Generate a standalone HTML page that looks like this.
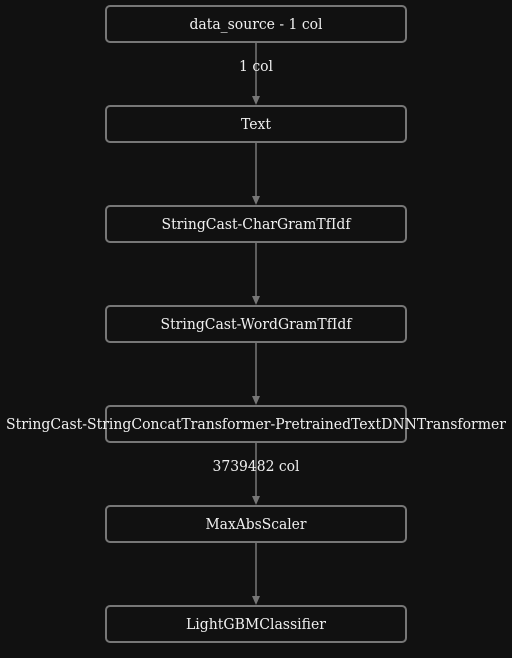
<!DOCTYPE html>
<html><head><style>
html,body{margin:0;padding:0;background:#111111;}
svg{display:block}
text{font-family:"DejaVu Serif","Liberation Serif",serif;font-size:15px;fill:#f0f0f0;text-anchor:middle;}
</style></head><body>
<svg width="512" height="658" viewBox="0 0 512 658" xmlns="http://www.w3.org/2000/svg">
<rect width="512" height="658" fill="#111111"/>
<g stroke="#777" stroke-width="1.5" fill="none">
<line x1="256" y1="42" x2="256" y2="98"/>
<line x1="256" y1="142" x2="256" y2="198"/>
<line x1="256" y1="242" x2="256" y2="298"/>
<line x1="256" y1="342" x2="256" y2="398"/>
<line x1="256" y1="442" x2="256" y2="498"/>
<line x1="256" y1="542" x2="256" y2="598"/>
</g>
<g fill="#777">
<polygon points="252,96 260,96 256,105"/>
<polygon points="252,196 260,196 256,205"/>
<polygon points="252,296 260,296 256,305"/>
<polygon points="252,396 260,396 256,405"/>
<polygon points="252,496 260,496 256,505"/>
<polygon points="252,596 260,596 256,605"/>
</g>
<g stroke="#777" stroke-width="2" fill="#111111">
<rect x="106" y="6" width="300" height="36" rx="4"/>
<rect x="106" y="106" width="300" height="36" rx="4"/>
<rect x="106" y="206" width="300" height="36" rx="4"/>
<rect x="106" y="306" width="300" height="36" rx="4"/>
<rect x="106" y="406" width="300" height="36" rx="4"/>
<rect x="106" y="506" width="300" height="36" rx="4"/>
<rect x="106" y="606" width="300" height="36" rx="4"/>
</g>
<text x="256" y="29" textLength="133" lengthAdjust="spacingAndGlyphs">data_source - 1 col</text>
<text x="256" y="71" textLength="34" lengthAdjust="spacingAndGlyphs">1 col</text>
<text x="256" y="129" textLength="30" lengthAdjust="spacingAndGlyphs">Text</text>
<text x="256" y="229" textLength="189" lengthAdjust="spacingAndGlyphs">StringCast-CharGramTfIdf</text>
<text x="256" y="329" textLength="191" lengthAdjust="spacingAndGlyphs">StringCast-WordGramTfIdf</text>
<text x="256" y="429" textLength="500" lengthAdjust="spacingAndGlyphs">StringCast-StringConcatTransformer-PretrainedTextDNNTransformer</text>
<text x="256" y="471" textLength="87" lengthAdjust="spacingAndGlyphs">3739482 col</text>
<text x="256" y="529" textLength="101" lengthAdjust="spacingAndGlyphs">MaxAbsScaler</text>
<text x="256" y="629" textLength="140" lengthAdjust="spacingAndGlyphs">LightGBMClassifier</text>
</svg>
</body></html>
